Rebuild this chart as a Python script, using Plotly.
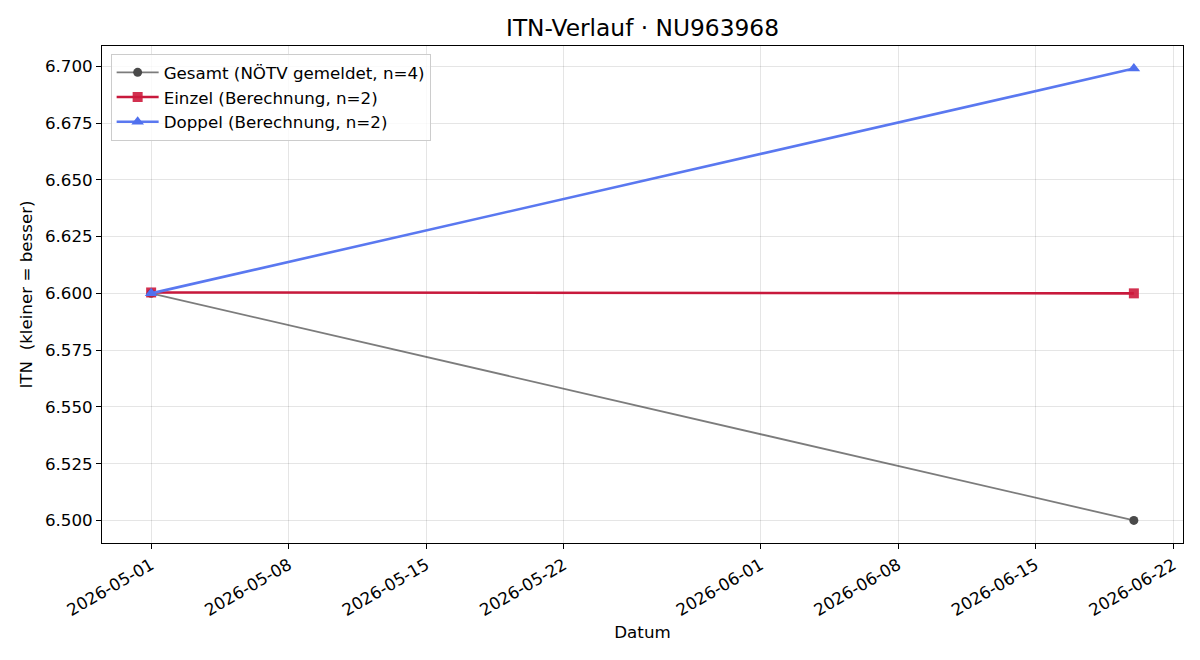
import plotly.graph_objects as go

dates_gesamt = ["2026-05-01", "2026-06-20"]
itn_gesamt = [6.600, 6.500]
dates_einzel = ["2026-05-01", "2026-06-20"]
itn_einzel = [6.6004, 6.600]
dates_doppel = ["2026-05-01", "2026-06-20"]
itn_doppel = [6.600, 6.699]

tick_dates = ["2026-05-01", "2026-05-08", "2026-05-15", "2026-05-22",
              "2026-06-01", "2026-06-08", "2026-06-15", "2026-06-22"]
y_ticks = [6.500, 6.525, 6.550, 6.575, 6.600, 6.625, 6.650, 6.675, 6.700]

font = "DejaVu Sans"
fs = 16.7
fig = go.Figure()
fig.add_trace(go.Scatter(
    x=dates_gesamt, y=itn_gesamt, mode="lines+markers",
    name="Gesamt (NÖTV gemeldet, n=4)",
    line=dict(color="rgba(68,68,68,0.7)", width=1.8),
    marker=dict(symbol="circle", size=9, color="#4a4a4a"),
))
fig.add_trace(go.Scatter(
    x=dates_einzel, y=itn_einzel, mode="lines+markers",
    name="Einzel (Berechnung, n=2)",
    line=dict(color="#c8193c", width=2.6),
    marker=dict(symbol="square", size=10, color="rgba(205,25,60,0.9)"),
))
fig.add_trace(go.Scatter(
    x=dates_doppel, y=itn_doppel, mode="lines+markers",
    name="Doppel (Berechnung, n=2)",
    line=dict(color="#5a78f0", width=2.6),
    marker=dict(symbol="triangle-up", size=11, color="#5070ee"),
))

axis_common = dict(
    showline=True, linecolor="black", linewidth=1, mirror=True,
    ticks="outside", ticklen=5, tickcolor="black",
    showgrid=True, gridcolor="rgba(0,0,0,0.1)", gridwidth=1,
    zeroline=False, tickfont=dict(family=font, size=fs, color="black"),
)
fig.update_xaxes(
    **axis_common, type="date",
    range=["2026-04-28 12:00", "2026-06-22 12:00"],
    tickvals=tick_dates, ticktext=tick_dates, tickangle=-30,
    title=dict(text="Datum", font=dict(family=font, size=fs, color="black"), standoff=7),
)
fig.update_yaxes(
    **axis_common, range=[6.49005, 6.70895],
    tickvals=y_ticks, tickformat=".3f",
    title=dict(text="ITN\u00a0\u00a0(kleiner = besser)", font=dict(family=font, size=fs, color="black"), standoff=8),
)
fig.update_layout(
    width=1200, height=660,
    margin=dict(l=102, r=17, t=46, b=117),
    paper_bgcolor="white", plot_bgcolor="white",
    title=dict(text="ITN-Verlauf · NU963968", xref="paper", x=0.5, xanchor="center",
               y=0.958, yanchor="middle",
               font=dict(family=font, size=23.3, color="black")),
    legend=dict(x=0.008, y=0.984, xanchor="left", yanchor="top",
                bgcolor="rgba(255,255,255,0.8)", bordercolor="#cccccc", borderwidth=1,
                font=dict(family=font, size=fs, color="black"), tracegroupgap=0,
                itemwidth=42),
    showlegend=True,
)
fig.write_html("out.html")
